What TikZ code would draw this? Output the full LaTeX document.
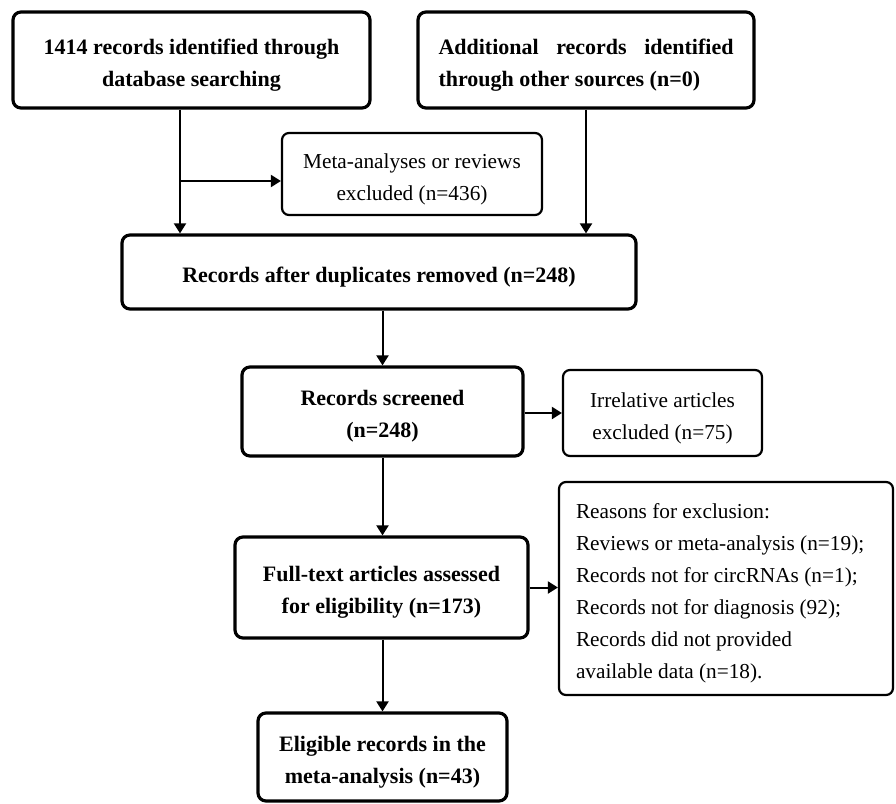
\documentclass[tikz,border=0pt]{standalone}
\usepackage{fontspec}
\setmainfont{Liberation Serif}
\usetikzlibrary{arrows.meta,calc}
\tikzset{
  mainbox/.style={draw, line width=3.2pt, rounded corners=8pt, align=flush center, inner sep=0pt,
    font=\fontsize{22}{32}\selectfont\bfseries,
    execute at begin node={\rule{0pt}{25pt}}},
  sidebox/.style={draw, line width=2.2pt, rounded corners=7pt, align=flush center, inner sep=0pt,
    font=\fontsize{21.3}{32}\selectfont,
    execute at begin node={\rule{0pt}{25pt}}},
  arr/.style={line width=2pt, -{Triangle[length=10pt,width=12pt]}},
}
\begin{document}
\begin{tikzpicture}[x=1pt,y=-1pt]
\useasboundingbox (0,0) rectangle (896,803);
\node[mainbox, minimum width=357pt, minimum height=96pt, text width=340pt] (A) at (191.5,60)
  {1414 records identified through\\ database searching};
\node[mainbox, minimum width=336pt, minimum height=96pt, text width=295pt, align=flush left,
  execute at begin node={\rule{0pt}{19pt}}] (B) at (586,60)
  {Additional\hfill records\hfill identified\\ through other sources (n=0)};
\node[sidebox, minimum width=260pt, minimum height=82pt, text width=245pt] (M) at (412,174)
  {Meta-analyses or reviews\\ excluded (n=436)};
\node[mainbox, minimum width=514pt, minimum height=74pt, text width=495pt] (C) at (379,272)
  {Records after duplicates removed (n=248)};
\node[mainbox, minimum width=281pt, minimum height=89pt, text width=265pt] (D) at (382.5,411.5)
  {Records screened\\ (n=248)};
\node[sidebox, minimum width=199pt, minimum height=86pt, text width=185pt,
  execute at begin node={\rule{0pt}{24pt}}] (I) at (662.5,413)
  {Irrelative articles\\ excluded (n=75)};
\node[mainbox, minimum width=293pt, minimum height=101pt, text width=275pt] (E) at (381.5,587.5)
  {Full-text articles assessed\\ for eligibility (n=173)};
\node[sidebox, minimum width=334pt, minimum height=213pt, text width=300pt, align=flush left] (R) at (726,588.5)
  {Reasons for exclusion:\\ Reviews or meta-analysis (n=19);\\ Records not for circRNAs (n=1);\\ Records not for diagnosis (92);\\ Records did not provided\\ available data (n=18).};
\node[mainbox, minimum width=249pt, minimum height=88pt, text width=235pt] (F) at (382.5,757)
  {Eligible records in the\\ meta-analysis (n=43)};
\coordinate (ax) at (180,181);
\draw[arr] (ax |- A.south) -- (ax |- C.north);
\draw[arr] (ax) -- (ax -| M.west);
\draw[arr] (B.south) -- (B.south |- C.north);
\draw[arr] (D.north |- C.south) -- (D.north);
\draw[arr] (D.south) -- (D.south |- E.north);
\draw[arr] (I.west -| D.east) -- (I.west);
\draw[arr] (E.east) -- (E.east -| R.west);
\draw[arr] (F.north |- E.south) -- (F.north);
\end{tikzpicture}
\end{document}
